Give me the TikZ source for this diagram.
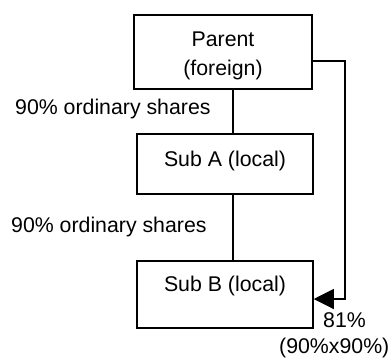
\documentclass[tikz,border=0pt]{standalone}
\usepackage{fontspec}
\setmainfont{Liberation Sans}
\usetikzlibrary{arrows.meta}

\begin{document}
\begin{tikzpicture}[x=1pt, y=-1pt,
  every node/.style={font=\fontsize{21.3}{28.6}\selectfont, inner sep=0pt},
  entity/.style={draw, line width=1.5pt, rectangle, align=center},
  tag/.style={anchor=base west},
  link/.style={line width=1.1pt}
]
  \useasboundingbox (0,0) rectangle (390,360);

  % ownership chain
  \node[entity, minimum width=178pt, minimum height=74pt, text height=50pt, text depth=3.4pt]
    (parent) at (223,52) {Parent\\(foreign)};
  \node[entity, minimum width=176pt, minimum height=60pt, text height=16pt, text depth=12pt]
    (subA) at (225,164) {Sub A (local)};
  \node[entity, minimum width=176pt, minimum height=67pt, text height=16pt, text depth=21.6pt]
    (subB) at (225,294.5) {Sub B (local)};

  % holding labels
  \node[tag] (holdA) at (15,114.6) {90\% ordinary shares};
  \node[tag] (holdB) at (11,232.6) {90\% ordinary shares};
  \node[tag] (effPct) at (323,327) {81\%};
  \node[anchor=base east] (effCalc) at (389.5,353.5) {(90\%x90\%)};

  % direct holdings
  \coordinate (spine) at (233,0);
  \draw[link] (parent.south -| spine) -- (subA.north -| spine);
  \draw[link] (subA.south -| spine) -- (subB.north -| spine);

  % indirect holding
  \coordinate (elbowTop) at (345,61);
  \coordinate (elbowBot) at (345,299);
  \draw[link, -{Triangle[length=20pt, width=20pt]}]
    (parent.east |- elbowTop) -- (elbowTop) -- (elbowBot) -- (subB.east |- elbowBot);
\end{tikzpicture}
\end{document}
